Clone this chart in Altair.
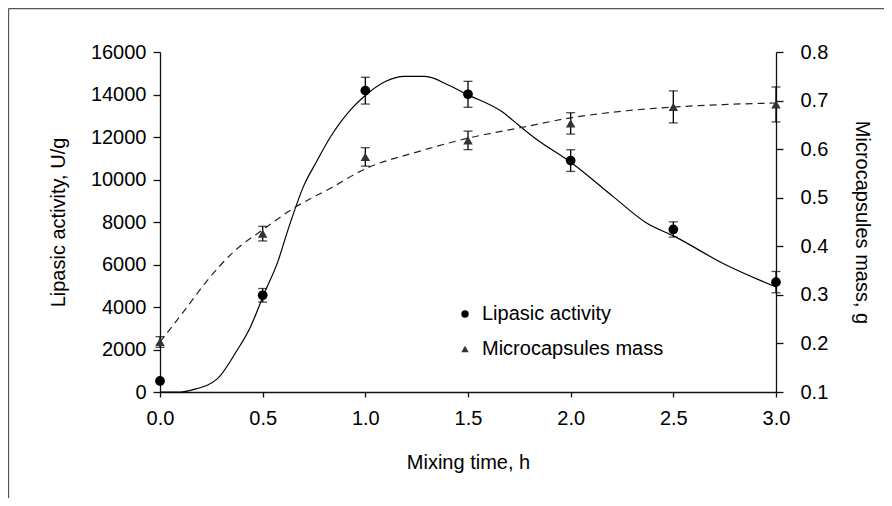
import altair as alt
import pandas as pd

# ---------------- data ----------------
time_points = [0.0, 0.5, 1.0, 1.5, 2.0, 2.5, 3.0]
lipase_values = [520, 4550, 14180, 14010, 10890, 7650, 5170]
lipase_errors = [0, 320, 630, 610, 510, 360, 500]
mass_values = [0.203, 0.426, 0.584, 0.618, 0.653, 0.687, 0.692]
mass_errors = [0.011, 0.015, 0.019, 0.019, 0.022, 0.033, 0.036]

lipase_curve_t = [0.0, 0.10, 0.16, 0.28, 0.37, 0.44, 0.51, 0.57, 0.63, 0.70, 0.76, 0.83,
                  0.93, 0.99, 1.10, 1.19, 1.29, 1.41, 1.49, 1.67, 1.72, 1.82, 2.01, 2.21,
                  2.37, 2.51, 2.74, 3.00]
lipase_curve_v = [0, 0, 110, 630, 1880, 3050, 4700, 6030, 7830, 9700, 10800, 12000,
                  13300, 13870, 14620, 14850, 14850, 14420, 14030, 13160, 12770, 11990, 10740, 9170,
                  7950, 7300, 6060, 4940]

mass_curve_t = [0.0, 0.114, 0.227, 0.357, 0.507, 0.649, 0.828, 1.003, 1.25, 1.494, 1.753,
                2.008, 2.273, 2.513, 2.76, 3.0]
mass_curve_v = [0.203, 0.265, 0.328, 0.388, 0.436, 0.478, 0.519, 0.560, 0.594, 0.622, 0.644,
                0.665, 0.679, 0.687, 0.692, 0.695]

series_names = ["Lipasic activity", "Microcapsules mass"]
series_colors = ["#000000", "#333333"]
series_shapes = ["circle", "triangle-up"]

x_ticks = [0.0, 0.5, 1.0, 1.5, 2.0, 2.5, 3.0]
left_ticks = [0, 2000, 4000, 6000, 8000, 10000, 12000, 14000, 16000]
right_ticks = [0.1, 0.2, 0.3, 0.4, 0.5, 0.6, 0.7, 0.8]

x_title = "Mixing time, h"
left_title = "Lipasic activity, U/g"
right_title = "Microcapsules mass, g"

# ---------------- tables ----------------
lip_pts = pd.DataFrame({
    "t": time_points,
    "v": lipase_values,
    "lo": [v - e for v, e in zip(lipase_values, lipase_errors)],
    "hi": [v + e for v, e in zip(lipase_values, lipase_errors)],
    "series": series_names[0],
})
mass_pts = pd.DataFrame({
    "t": time_points,
    "v": mass_values,
    "lo": [v - e for v, e in zip(mass_values, mass_errors)],
    "hi": [v + e for v, e in zip(mass_values, mass_errors)],
    "series": series_names[1],
})
lip_curve = pd.DataFrame({"t": lipase_curve_t, "v": lipase_curve_v})
mass_curve = pd.DataFrame({"t": mass_curve_t, "v": mass_curve_v})
dummy = pd.DataFrame({"a": [0]})

W, H = 616, 340
PAD_L, PAD_T, PAD_R, PAD_B = 152, 44, 108, 106
FONT = "Arial, Liberation Sans, sans-serif"
FS = 20

x_axis = alt.Axis(values=x_ticks, format=".1f", title=x_title, grid=False,
                  tickSize=5, labelPadding=11, labelFlush=False, titleX=W / 2, titleY=70,
                  titleBaseline="middle", titleAlign="center")
x_enc = alt.X("t:Q", scale=alt.Scale(domain=[0, 3], nice=False, zero=False), axis=x_axis)

left_axis = alt.Axis(orient="left", values=left_ticks, format="d", title=left_title,
                     grid=False, tickSize=7, labelPadding=7, labelFlush=False, titleAngle=270,
                     titleX=-102, titleY=H / 2, titleBaseline="middle", titleAlign="center")
left_scale = alt.Scale(domain=[0, 16000], nice=False)

right_axis = alt.Axis(orient="right", values=right_ticks, format=".1f", title=right_title,
                      grid=False, tickSize=7, labelPadding=17, labelFlush=False, titleAngle=90,
                      titleX=85, titleY=H / 2, titleBaseline="middle", titleAlign="center")
right_scale = alt.Scale(domain=[0.1, 0.8], nice=False, zero=False)

legend = alt.Legend(title=None, orient="none", legendX=295, legendY=252,
                    labelFontSize=FS, labelFont=FONT, labelColor="#000", labelLimit=400,
                    symbolSize=55, rowPadding=15, labelOffset=7, padding=0,
                    symbolStrokeWidth=0)
shape_enc = alt.Shape("series:N", scale=alt.Scale(domain=series_names, range=series_shapes),
                      legend=legend)
color_enc = alt.Color("series:N", scale=alt.Scale(domain=series_names, range=series_colors),
                      legend=legend)

# ---------------- left (lipase) ----------------
lip_line = alt.Chart(lip_curve).mark_line(color="#000", strokeWidth=1.2,
                                          interpolate="monotone").encode(
    x=x_enc, y=alt.Y("v:Q", scale=left_scale, axis=left_axis))
lip_rule = alt.Chart(lip_pts).mark_rule(color="#000", strokeWidth=1.3).encode(
    x=x_enc, y=alt.Y("lo:Q", scale=left_scale, axis=left_axis), y2="hi:Q")
lip_cap_lo = alt.Chart(lip_pts).mark_tick(color="#000", orient="horizontal",
                                          size=9, thickness=1.3).encode(
    x=x_enc, y=alt.Y("lo:Q", scale=left_scale, axis=left_axis))
lip_cap_hi = alt.Chart(lip_pts).mark_tick(color="#000", orient="horizontal",
                                          size=9, thickness=1.3).encode(
    x=x_enc, y=alt.Y("hi:Q", scale=left_scale, axis=left_axis))
lip_points = alt.Chart(lip_pts).mark_point(filled=True, size=95, opacity=1).encode(
    x=x_enc, y=alt.Y("v:Q", scale=left_scale, axis=left_axis),
    shape=shape_enc, color=color_enc)

frame_top = alt.Chart(dummy).mark_rule(color="#555", strokeWidth=1.3).encode(
    x=alt.value(0.5 - PAD_L), x2=alt.value(W + PAD_R), y=alt.value(0.5 - PAD_T))
frame_left = alt.Chart(dummy).mark_rule(color="#555", strokeWidth=1.3).encode(
    x=alt.value(0.5 - PAD_L), y=alt.value(0.5 - PAD_T), y2=alt.value(H + PAD_B))

left = alt.layer(lip_line, lip_rule, lip_cap_lo, lip_cap_hi, lip_points,
                 frame_top, frame_left)

# ---------------- right (mass) ----------------
mass_line = alt.Chart(mass_curve).mark_line(color="#222", strokeWidth=1.2,
                                            strokeDash=[7, 5],
                                            interpolate="monotone").encode(
    x=x_enc, y=alt.Y("v:Q", scale=right_scale, axis=right_axis))
mass_rule = alt.Chart(mass_pts).mark_rule(color="#000", strokeWidth=1.3).encode(
    x=x_enc, y=alt.Y("lo:Q", scale=right_scale, axis=right_axis), y2="hi:Q")
mass_cap_lo = alt.Chart(mass_pts).mark_tick(color="#000", orient="horizontal",
                                            size=9, thickness=1.3).encode(
    x=x_enc, y=alt.Y("lo:Q", scale=right_scale, axis=right_axis))
mass_cap_hi = alt.Chart(mass_pts).mark_tick(color="#000", orient="horizontal",
                                            size=9, thickness=1.3).encode(
    x=x_enc, y=alt.Y("hi:Q", scale=right_scale, axis=right_axis))
mass_points = alt.Chart(mass_pts).mark_point(filled=True, size=90, opacity=1).encode(
    x=x_enc, y=alt.Y("v:Q", scale=right_scale, axis=right_axis),
    shape=shape_enc, color=color_enc)

right = alt.layer(mass_line, mass_rule, mass_cap_lo, mass_cap_hi, mass_points)

chart = alt.layer(left, right).resolve_scale(y="independent").properties(
    width=W, height=H,
    autosize=alt.AutoSizeParams(type="none"),
    padding={"left": PAD_L, "top": PAD_T, "right": PAD_R, "bottom": PAD_B},
    background="#ffffff",
).configure_view(strokeOpacity=0).configure_axis(
    labelFont=FONT, labelFontSize=FS, labelColor="#000",
    titleFont=FONT, titleFontSize=FS, titleColor="#000", titleFontWeight="normal",
    domainColor="#111", domainWidth=1.3, tickColor="#111", tickWidth=1.3,
).configure_legend(labelFont=FONT)

chart.save("out.html", embed_options={"renderer": "svg", "actions": False})
